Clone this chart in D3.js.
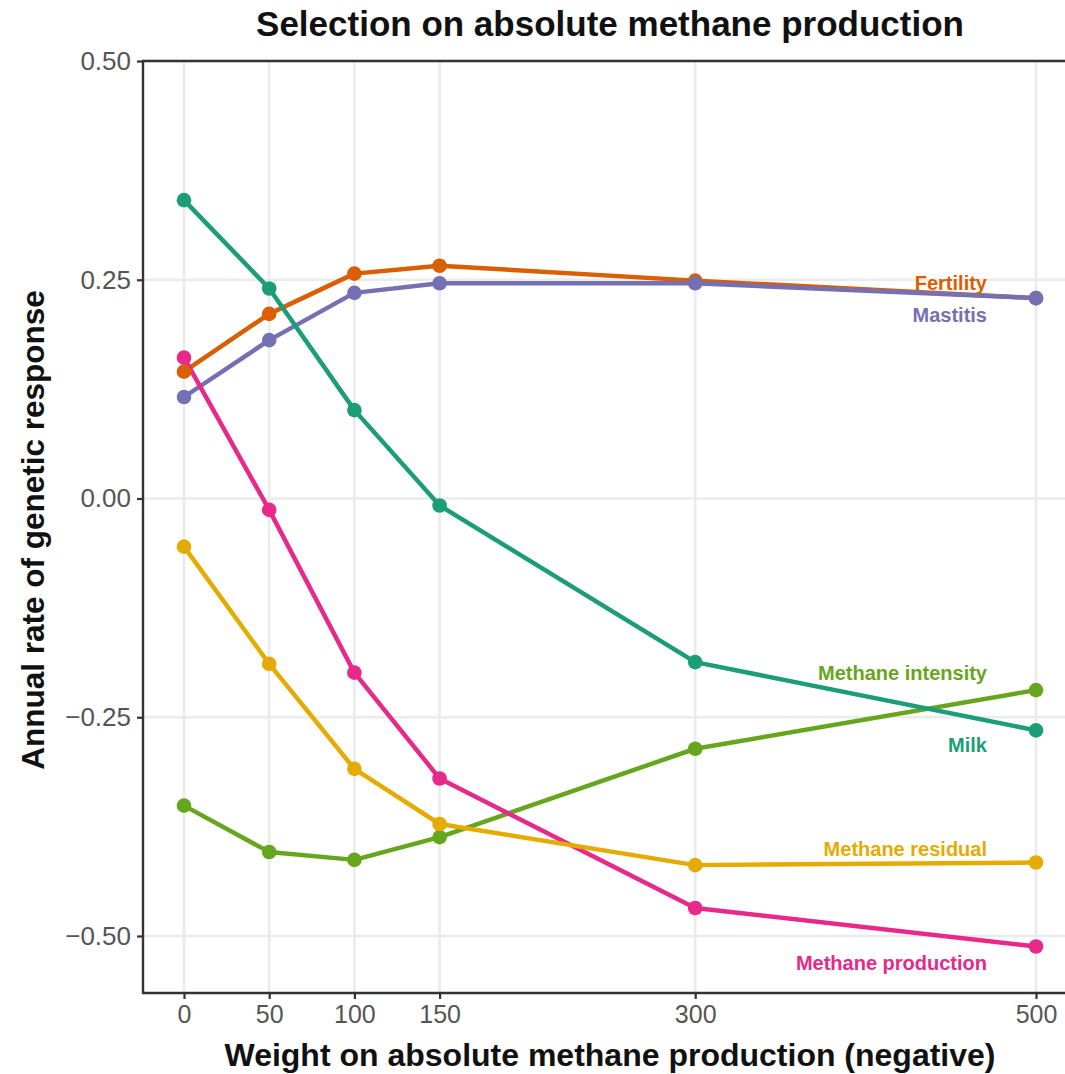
<!DOCTYPE html>
<html>
<head>
<meta charset="utf-8">
<script src="https://cdn.jsdelivr.net/npm/d3@7"></script>
<style>
  html, body { margin: 0; padding: 0; background: #fff; }
  text { font-family: "Liberation Sans", Arial, sans-serif; }
</style>
</head>
<body>
<svg id="chart"></svg>
<script>
// Data
const weights = [0, 50, 100, 150, 300, 500];
const traits = ["Fertility", "Mastitis", "Methane intensity", "Methane production", "Methane residual", "Milk"];
const fertility = [0.145, 0.211, 0.257, 0.266, 0.249, 0.229];
const mastitis = [0.116, 0.181, 0.235, 0.246, 0.246, 0.229];
const methaneIntensity = [-0.351, -0.404, -0.413, -0.387, -0.286, -0.219];
const methaneProduction = [0.161, -0.013, -0.199, -0.320, -0.468, -0.512];
const methaneResidual = [-0.055, -0.189, -0.309, -0.372, -0.419, -0.416];
const milk = [0.341, 0.240, 0.101, -0.008, -0.187, -0.265];
const yTicks = [-0.50, -0.25, 0.00, 0.25, 0.50];

const seriesValues = [fertility, mastitis, methaneIntensity, methaneProduction, methaneResidual, milk];
const colors = ["#d95f02", "#7570b3", "#66a61e", "#e7298a", "#e6ab02", "#1b9e77"];
// label nudge (px) from the last point
const labelDy = [-8, 24, -10, 23, -7, 22];

const width = 1065, height = 1074;

const svg = d3.select("#chart").attr("width", width).attr("height", height);

const x = d3.scaleLinear().domain([0, 500]).range([184, 1036]);
const y = d3.scaleLinear().domain([-0.5, 0.5]).range([936, 61]);

const panelL = 143, panelR = 1077;
const panelT = 61, panelB = 993;

// grid
const grid = svg.append("g").attr("stroke", "#ebebeb").attr("stroke-width", 2.6);
grid.selectAll(".gy").data(yTicks).enter().append("line")
    .attr("x1", panelL).attr("x2", panelR)
    .attr("y1", d => y(d)).attr("y2", d => y(d));
grid.selectAll(".gx").data(weights).enter().append("line")
    .attr("y1", panelT).attr("y2", panelB)
    .attr("x1", d => x(d)).attr("x2", d => x(d));

// axes
const yAxis = svg.append("g").attr("transform", `translate(${panelL},0)`)
    .call(d3.axisLeft(y).tickValues(yTicks).tickFormat(d3.format(".2f")).tickSize(6).tickPadding(6));
const xAxis = svg.append("g").attr("transform", `translate(0,${panelB})`)
    .call(d3.axisBottom(x).tickValues(weights).tickSize(6).tickPadding(6));
[yAxis, xAxis].forEach(g => {
    g.select(".domain").remove();
    g.selectAll(".tick line").attr("stroke", "#333").attr("stroke-width", 2.2);
    g.selectAll(".tick text").attr("fill", "#555").style("font-size", "25px")
        .style("font-family", "'Liberation Sans', Arial, sans-serif");
});
yAxis.selectAll(".tick text").style("font-size", "26px")
    .text(d => d3.format(".2f")(d).replace("-", "\u2212"));

// panel border (left, top, bottom)
svg.append("path")
    .attr("d", `M${panelR},${panelT}H${panelL}V${panelB}H${panelR}`)
    .attr("fill", "none").attr("stroke", "#333").attr("stroke-width", 2.4);

// lines and points
const line = d3.line().x((d, i) => x(weights[i])).y(d => y(d));
const seriesG = svg.append("g");
seriesValues.forEach((vals, k) => {
    seriesG.append("path").datum(vals)
        .attr("d", line).attr("fill", "none")
        .attr("stroke", colors[k]).attr("stroke-width", 4.5)
        .attr("stroke-linejoin", "round");
});
seriesValues.forEach((vals, k) => {
    seriesG.selectAll(null).data(vals).enter().append("circle")
        .attr("cx", (d, i) => x(weights[i])).attr("cy", d => y(d))
        .attr("r", 7.3).attr("fill", colors[k]);
});

// labels
svg.append("g").selectAll("text").data(traits).enter().append("text")
    .attr("x", x(500) - 49)
    .attr("y", (d, k) => y(seriesValues[k][weights.length - 1]) + labelDy[k])
    .attr("text-anchor", "end")
    .attr("fill", (d, k) => colors[k])
    .style("font-size", "20px").style("font-weight", "bold")
    .text(d => d);

// titles
svg.append("text").attr("x", 610).attr("y", 36).attr("text-anchor", "middle")
    .style("font-size", "35px").style("font-weight", "bold").attr("fill", "#111")
    .text("Selection on absolute methane production");
svg.append("text").attr("x", 610).attr("y", 1066).attr("text-anchor", "middle")
    .style("font-size", "32px").style("font-weight", "bold").attr("fill", "#111")
    .text("Weight on absolute methane production (negative)");
svg.append("text").attr("transform", "translate(44,530) rotate(-90)").attr("text-anchor", "middle")
    .style("font-size", "31.5px").style("font-weight", "bold").attr("fill", "#111")
    .text("Annual rate of genetic response");
</script>
</body>
</html>
